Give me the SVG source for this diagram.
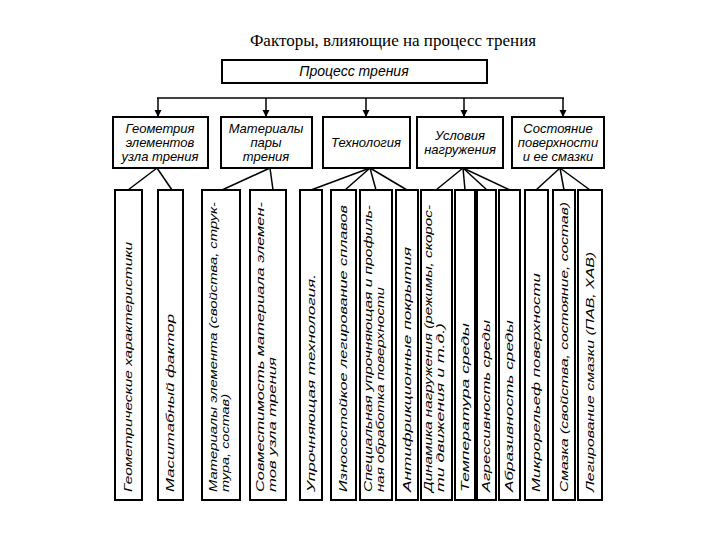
<svg xmlns="http://www.w3.org/2000/svg" width="720" height="540" viewBox="0 0 720 540">
<style>
rect{fill:#fff;stroke:#000;stroke-width:2}
.c line{stroke:#000;stroke-width:1.5}
.h{font-family:"Liberation Sans",Arial,sans-serif;font-style:italic;font-size:13px;text-anchor:middle}
.l{font-family:"Liberation Sans",Arial,sans-serif;font-style:italic;font-size:11px}
.t{font-family:"Liberation Serif","Times New Roman",serif;font-size:17px;text-anchor:middle}
</style>
<defs><marker id="a" viewBox="0 0 10 10" refX="10" refY="5" markerWidth="5" markerHeight="6" orient="auto"><path d="M0,0L10,5L0,10z"/></marker></defs>
<rect x="0" y="0" width="720" height="540" style="stroke:none"/>
<text class="t" x="393" y="46">Факторы, влияющие на процесс трения</text>
<g class="c">
<line x1="157" y1="98" x2="564" y2="98"/>
<line x1="158" y1="98" x2="158" y2="117" marker-end="url(#a)"/>
<line x1="266" y1="98" x2="266" y2="117" marker-end="url(#a)"/>
<line x1="366" y1="98" x2="366" y2="117" marker-end="url(#a)"/>
<line x1="464" y1="98" x2="464" y2="117" marker-end="url(#a)"/>
<line x1="563" y1="98" x2="563" y2="117" marker-end="url(#a)"/>
<line x1="157" y1="168" x2="128" y2="190"/><line x1="157" y1="168" x2="172" y2="190"/>
<line x1="270" y1="168" x2="222" y2="190"/><line x1="270" y1="168" x2="273" y2="190"/>
<line x1="370" y1="168" x2="311" y2="190"/><line x1="370" y1="168" x2="345" y2="190"/><line x1="370" y1="168" x2="376" y2="190"/><line x1="370" y1="168" x2="407" y2="190"/>
<line x1="463" y1="168" x2="436" y2="190"/><line x1="463" y1="168" x2="465" y2="190"/><line x1="463" y1="168" x2="487" y2="190"/><line x1="463" y1="168" x2="510" y2="190"/>
<line x1="560" y1="168" x2="536" y2="190"/><line x1="560" y1="168" x2="564" y2="190"/><line x1="560" y1="168" x2="590" y2="190"/>
</g>
<g id="root"><rect x="222" y="60" width="265" height="23"/><text class="h" x="354" y="76" style="font-size:14px">Процесс трения</text></g>
<g id="c1"><rect x="113" y="117" width="95" height="51"/><text class="h" x="160" y="133">Геометрия</text><text class="h" x="160" y="147">элементов</text><text class="h" x="160" y="161">узла трения</text></g>
<g id="c2"><rect x="221" y="117" width="91" height="51"/><text class="h" x="266" y="133">Материалы</text><text class="h" x="266" y="147">пары</text><text class="h" x="266" y="161">трения</text></g>
<g id="c3"><rect x="323" y="117" width="87" height="51"/><text class="h" x="366" y="147">Технология</text></g>
<g id="c4"><rect x="417" y="117" width="86" height="51"/><text class="h" x="460" y="140">Условия</text><text class="h" x="460" y="154">нагружения</text></g>
<g id="c5"><rect x="512" y="117" width="92" height="51"/><text class="h" x="558" y="133">Состояние</text><text class="h" x="558" y="147">поверхности</text><text class="h" x="558" y="161">и ее смазки</text></g>
<g id="n1"><rect x="115" y="190" width="27" height="310"/><text class="l" transform="translate(132,492) rotate(-90)" textLength="250" lengthAdjust="spacingAndGlyphs">Геометрические характеристики</text></g>
<g id="n2"><rect x="158" y="190" width="25" height="310"/><text class="l" transform="translate(174,492) rotate(-90)" textLength="178" lengthAdjust="spacingAndGlyphs">Масштабный фактор</text></g>
<g id="n3"><rect x="202" y="190" width="38" height="310"/><text class="l" transform="translate(217,492) rotate(-90)"><tspan x="0" textLength="290" lengthAdjust="spacingAndGlyphs">Материалы элемента (свойства, струк-</tspan><tspan x="0" dy="12" textLength="98" lengthAdjust="spacingAndGlyphs">тура, состав)</tspan></text></g>
<g id="n4"><rect x="250" y="190" width="36" height="310"/><text class="l" transform="translate(264,492) rotate(-90)"><tspan x="0" textLength="290" lengthAdjust="spacingAndGlyphs">Совместимость материала элемен-</tspan><tspan x="0" dy="12" textLength="135" lengthAdjust="spacingAndGlyphs">тов узла трения</tspan></text></g>
<g id="n5"><rect x="300" y="190" width="22" height="310"/><text class="l" transform="translate(315,492) rotate(-90)" textLength="218" lengthAdjust="spacingAndGlyphs">Упрочняющая технология.</text></g>
<g id="n6"><rect x="331" y="190" width="25" height="310"/><text class="l" transform="translate(347,492) rotate(-90)" textLength="287" lengthAdjust="spacingAndGlyphs">Износостойкое легирование сплавов</text></g>
<g id="n7"><rect x="360" y="190" width="32" height="310"/><text class="l" transform="translate(372,492) rotate(-90)"><tspan x="0" textLength="287" lengthAdjust="spacingAndGlyphs">Специальная упрочняющая и профиль-</tspan><tspan x="0" dy="12" textLength="205" lengthAdjust="spacingAndGlyphs">ная обработка поверхности</tspan></text></g>
<g id="n8"><rect x="396" y="190" width="22" height="310"/><text class="l" transform="translate(411,492) rotate(-90)" textLength="245" lengthAdjust="spacingAndGlyphs">Антифрикционные покрытия</text></g>
<g id="n9"><rect x="421" y="190" width="31" height="310"/><text class="l" transform="translate(432,492) rotate(-90)"><tspan x="0" textLength="287" lengthAdjust="spacingAndGlyphs">Динамика нагружения (режимы, скорос-</tspan><tspan x="0" dy="12" textLength="169" lengthAdjust="spacingAndGlyphs">ти движения и т.д.)</tspan></text></g>
<g id="n10"><rect x="455" y="190" width="20" height="310"/><text class="l" transform="translate(469,492) rotate(-90)" textLength="169" lengthAdjust="spacingAndGlyphs">Температура среды</text></g>
<g id="n11"><rect x="477" y="190" width="19" height="310"/><text class="l" transform="translate(490,492) rotate(-90)" textLength="172" lengthAdjust="spacingAndGlyphs">Агрессивность среды</text></g>
<g id="n12"><rect x="499" y="190" width="21" height="310"/><text class="l" transform="translate(513,492) rotate(-90)" textLength="172" lengthAdjust="spacingAndGlyphs">Абразивность среды</text></g>
<g id="n13"><rect x="525" y="190" width="23" height="310"/><text class="l" transform="translate(540,492) rotate(-90)" textLength="219" lengthAdjust="spacingAndGlyphs">Микрорельеф поверхности</text></g>
<g id="n14"><rect x="553" y="190" width="22" height="310"/><text class="l" transform="translate(568,492) rotate(-90)" textLength="290" lengthAdjust="spacingAndGlyphs">Смазка (свойства, состояние, состав)</text></g>
<g id="n15"><rect x="578" y="190" width="24" height="310"/><text class="l" transform="translate(594,492) rotate(-90)" textLength="240" lengthAdjust="spacingAndGlyphs">Легирование смазки (ПАВ, ХАВ)</text></g>
</svg>
